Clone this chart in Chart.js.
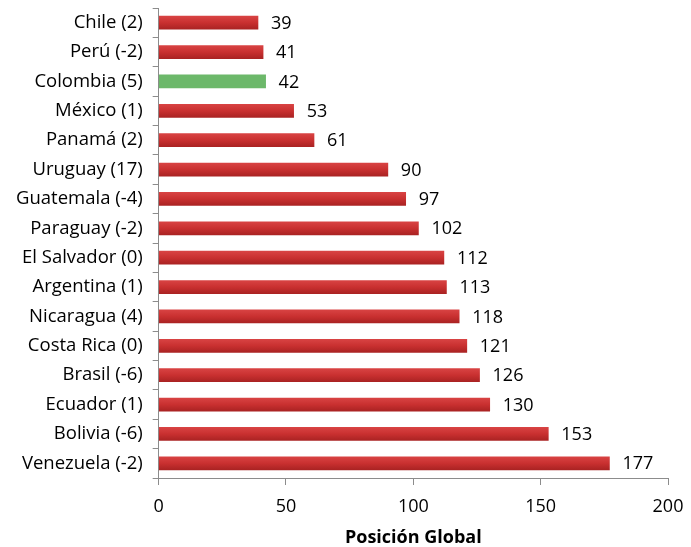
<!DOCTYPE html>
<html>
<head>
<meta charset="utf-8">
<script src="https://cdn.jsdelivr.net/npm/chart.js@4"></script>
<style>
  html, body { margin: 0; padding: 0; background: #fff; }
  #wrap { width: 691px; height: 547px; }
</style>
</head>
<body>
<div id="wrap"><canvas id="chart"></canvas></div>
<script>
const countries = ['Chile (2)', 'Perú (-2)', 'Colombia (5)', 'México (1)', 'Panamá (2)', 'Uruguay (17)',
    'Guatemala (-4)', 'Paraguay (-2)', 'El Salvador (0)', 'Argentina (1)', 'Nicaragua (4)',
    'Costa Rica (0)', 'Brasil (-6)', 'Ecuador (1)', 'Bolivia (-6)', 'Venezuela (-2)'];
const positions = [39, 41, 42, 53, 61, 90, 97, 102, 112, 113, 118, 121, 126, 130, 153, 177];
const highlight = 'Colombia (5)';
const xTicks = [0, 50, 100, 150, 200];

const FONT = '"Open Sans", sans-serif';

function barColor(ctx) {
    const chart = ctx.chart;
    if (countries[ctx.dataIndex] === highlight) return '#6cb86a';
    const yScale = chart.scales && chart.scales.y;
    if (!chart.chartArea || !yScale) return '#c62d2d';
    const yc = yScale.getPixelForValue(ctx.dataIndex);
    if (!isFinite(yc)) return '#c62d2d';
    const g = chart.ctx.createLinearGradient(0, yc - 7, 0, yc + 7);
    g.addColorStop(0, '#d94444');
    g.addColorStop(0.5, '#c93030');
    g.addColorStop(1, '#a82222');
    return g;
}

const valueLabels = {
    id: 'valueLabels',
    afterDatasetsDraw(chart) {
        const c = chart.ctx;
        const meta = chart.getDatasetMeta(0);
        c.save();
        c.font = '18px ' + FONT;
        c.fillStyle = '#000';
        c.textAlign = 'left';
        c.textBaseline = 'middle';
        meta.data.forEach((bar, i) => {
            c.fillText(String(positions[i]), bar.x + 13, bar.y + 1);
        });
        c.restore();
    },
};

new Chart('chart', {
    type: 'bar',
    data: {
        labels: countries,
        datasets: [{
            data: positions,
            backgroundColor: barColor,
            barThickness: 13,
            borderWidth: 0,
        }],
    },
    options: {
        indexAxis: 'y',
        responsive: true,
        maintainAspectRatio: false,
        animation: false,
        layout: { padding: { top: 8, right: 23, left: 6, bottom: 0 } },
        plugins: { legend: { display: false }, tooltip: { enabled: false } },
        scales: {
            x: {
                min: 0,
                max: 200,
                afterBuildTicks: (axis) => { axis.ticks = xTicks.map((v) => ({ value: v })); },
                afterFit: (axis) => { axis.paddingLeft = 0; axis.paddingRight = 0; },
                grid: { drawOnChartArea: false, tickLength: 7, color: '#8c8c8c' },
                border: { color: '#8c8c8c', width: 1 },
                ticks: { color: '#000', font: { family: FONT, size: 18, lineHeight: 1 }, padding: 13 },
                title: {
                    display: true,
                    text: 'Posición Global',
                    color: '#000',
                    font: { family: FONT, size: 18, weight: 'bold', lineHeight: 1 },
                    padding: { top: 0, bottom: 0 },
                },
            },
            y: {
                afterFit: (axis) => { axis.paddingTop = 0; axis.paddingBottom = 0; },
                grid: { drawOnChartArea: false, offset: true, tickLength: 6, color: '#8c8c8c' },
                border: { color: '#8c8c8c', width: 1 },
                ticks: { color: '#000', font: { family: FONT, size: 18.5 }, padding: 10 },
            },
        },
    },
    plugins: [valueLabels],
});
</script>
</body>
</html>
